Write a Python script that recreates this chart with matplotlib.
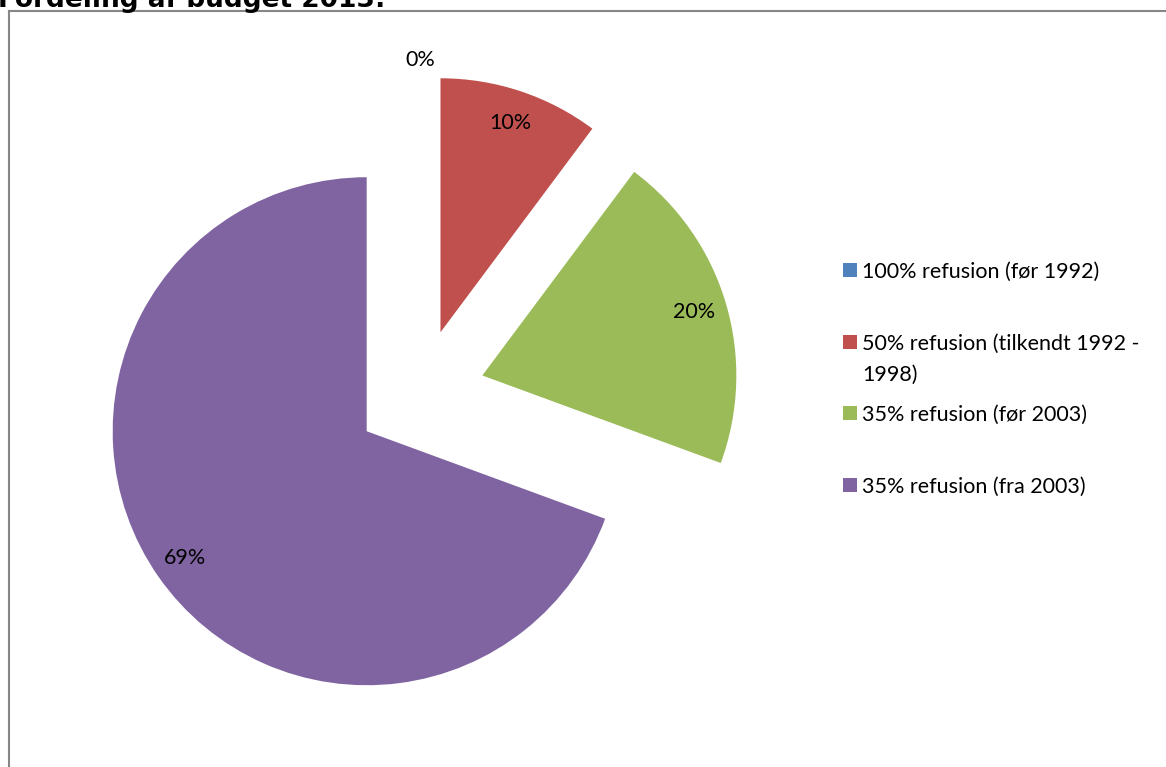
import matplotlib
matplotlib.use("Agg")
import matplotlib.pyplot as plt
from matplotlib.patches import Rectangle
from matplotlib.lines import Line2D
import numpy as np

categories = ["100% refusion (før 1992)",
              "50% refusion (tilkendt 1992 -\n1998)",
              "35% refusion (før 2003)",
              "35% refusion (fra 2003)"]
values = [0.0, 10.2, 20.4, 69.4]
colors = ["#4F81BD", "#C0504D", "#9BBB59", "#8064A2"]
title = "Fordeling af budget 2013:"

W, H = 1166, 767
fig = plt.figure(figsize=(W / 100, H / 100), dpi=100)
fig.patch.set_facecolor("white")

def fx(px):
    return px / W

def fy(py):
    return 1 - py / H

R = 254.0
cx, cy = 420.0, 394.0
ax = fig.add_axes([0, 0, 1, 1])
ax.axis("off")

font = "Lato"
fs = 15.5
wedges, texts, autotexts = ax.pie(
    values, colors=colors, startangle=90, counterclock=False,
    explode=[0.256] * len(values), radius=1.0,
    autopct=lambda p: f"{p:.0f}%", pctdistance=0.87,
    textprops=dict(fontsize=fs, color="black", family=font),
    wedgeprops=dict(linewidth=0))
ax.set_xlim(-cx / R, (W - cx) / R)
ax.set_ylim(-(H - cy) / R, cy / R)

# move the empty slice's label outside
w0 = wedges[0]
mid = np.deg2rad((w0.theta1 + w0.theta2) / 2)
c0 = w0.center
autotexts[0].set_position((c0[0] + 1.06 * np.cos(mid), c0[1] + 1.06 * np.sin(mid)))

# border
lc = "#868686"
fig.add_artist(Line2D([fx(9), fx(9)], [fy(11), 0], color=lc, lw=1.5))
fig.add_artist(Line2D([fx(9), 1], [fy(11), fy(11)], color=lc, lw=1.5))

# title (partially cut off at top, as in the reference)
fig.text(fx(-2), fy(7), title, fontsize=19, fontweight="bold",
         family="DejaVu Sans", ha="left", va="baseline")

# legend
ys = [270, 342, 413, 485]
for lab, col, y in zip(categories, colors, ys):
    fig.add_artist(Rectangle((fx(843), fy(y + 7)), 14 / W, 14 / H,
                             transform=fig.transFigure, facecolor=col,
                             edgecolor="none"))
    for i, line in enumerate(lab.split("\n")):
        fig.text(fx(862), fy(y + 8 + 31 * i), line, fontsize=fs, family=font,
                 ha="left", va="baseline")

fig.savefig("out.png", dpi=100, facecolor="white")
